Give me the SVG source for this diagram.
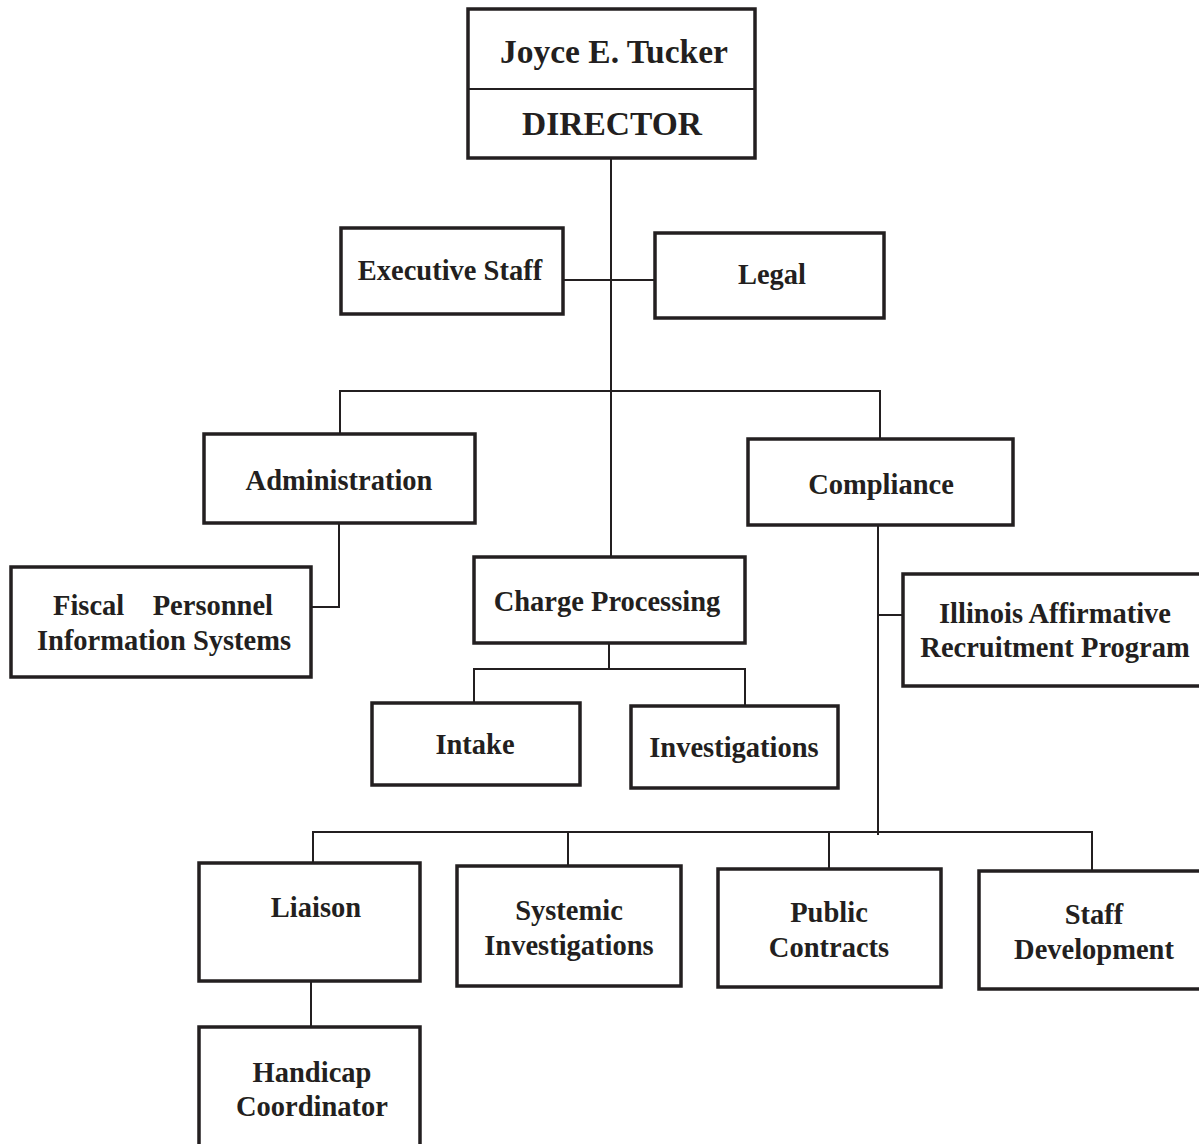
<svg xmlns="http://www.w3.org/2000/svg" width="1199" height="1144" viewBox="0 0 1199 1144">
<style>
.box{fill:#fff;stroke:#231f20;stroke-width:3.5}
.conn{fill:none;stroke:#231f20;stroke-width:2}
text{font-family:"Liberation Serif","Times New Roman",serif;font-size:28.5px;font-weight:bold;fill:#231f20;text-anchor:middle}
.big{font-size:33.5px}
</style>
<rect width="1199" height="1144" fill="#fff"/>
<g id="connectors">
<path class="conn" d="M611 158 V557"/>
<path class="conn" d="M563 280 H655"/>
<path class="conn" d="M340 435 V391 H880 V440"/>
<path class="conn" d="M339 523 V607 H311"/>
<path class="conn" d="M878 525 V835"/>
<path class="conn" d="M878 615 H903"/>
<path class="conn" d="M609 643 V669"/>
<path class="conn" d="M474 704 V669 H745 V707"/>
<path class="conn" d="M313 864 V832 H1092 V871"/>
<path class="conn" d="M568 832 V866"/>
<path class="conn" d="M829 832 V869"/>
<path class="conn" d="M311 981 V1027"/>
</g>
<g id="director">
<rect class="box" x="468" y="9" width="287" height="149"/>
<line x1="468" y1="89" x2="755" y2="89" stroke="#231f20" stroke-width="2"/>
<text class="big" x="614" y="63">Joyce E. Tucker</text>
<text class="big" x="612" y="135">DIRECTOR</text>
</g>
<g id="executive-staff">
<rect class="box" x="341" y="228" width="222" height="86"/>
<text x="450" y="280">Executive Staff</text>
</g>
<g id="legal">
<rect class="box" x="655" y="233" width="229" height="85"/>
<text x="772" y="284">Legal</text>
</g>
<g id="administration">
<rect class="box" x="204" y="434" width="271" height="89"/>
<text x="339" y="490">Administration</text>
</g>
<g id="compliance">
<rect class="box" x="748" y="439" width="265" height="86"/>
<text x="881" y="494">Compliance</text>
</g>
<g id="fiscal">
<rect class="box" x="11" y="567" width="300" height="110"/>
<text x="163" y="615" xml:space="preserve">Fiscal    Personnel</text>
<text x="164" y="650">Information Systems</text>
</g>
<g id="charge-processing">
<rect class="box" x="474" y="557" width="271" height="86"/>
<text x="607" y="611">Charge Processing</text>
</g>
<g id="illinois">
<rect class="box" x="903" y="574" width="300" height="112"/>
<text x="1055" y="623">Illinois Affirmative</text>
<text x="1055" y="657">Recruitment Program</text>
</g>
<g id="intake">
<rect class="box" x="372" y="703" width="208" height="82"/>
<text x="475" y="754">Intake</text>
</g>
<g id="investigations">
<rect class="box" x="631" y="706" width="207" height="82"/>
<text x="734" y="757">Investigations</text>
</g>
<g id="liaison">
<rect class="box" x="199" y="863" width="221" height="118"/>
<text x="316" y="917">Liaison</text>
</g>
<g id="systemic">
<rect class="box" x="457" y="866" width="224" height="120"/>
<text x="569" y="920">Systemic</text>
<text x="569" y="955">Investigations</text>
</g>
<g id="public-contracts">
<rect class="box" x="718" y="869" width="223" height="118"/>
<text x="829" y="922">Public</text>
<text x="829" y="957">Contracts</text>
</g>
<g id="staff-development">
<rect class="box" x="979" y="871" width="222" height="118"/>
<text x="1094" y="924">Staff</text>
<text x="1094" y="959">Development</text>
</g>
<g id="handicap">
<rect class="box" x="199" y="1027" width="221" height="120"/>
<text x="312" y="1082">Handicap</text>
<text x="312" y="1116">Coordinator</text>
</g>
</svg>
